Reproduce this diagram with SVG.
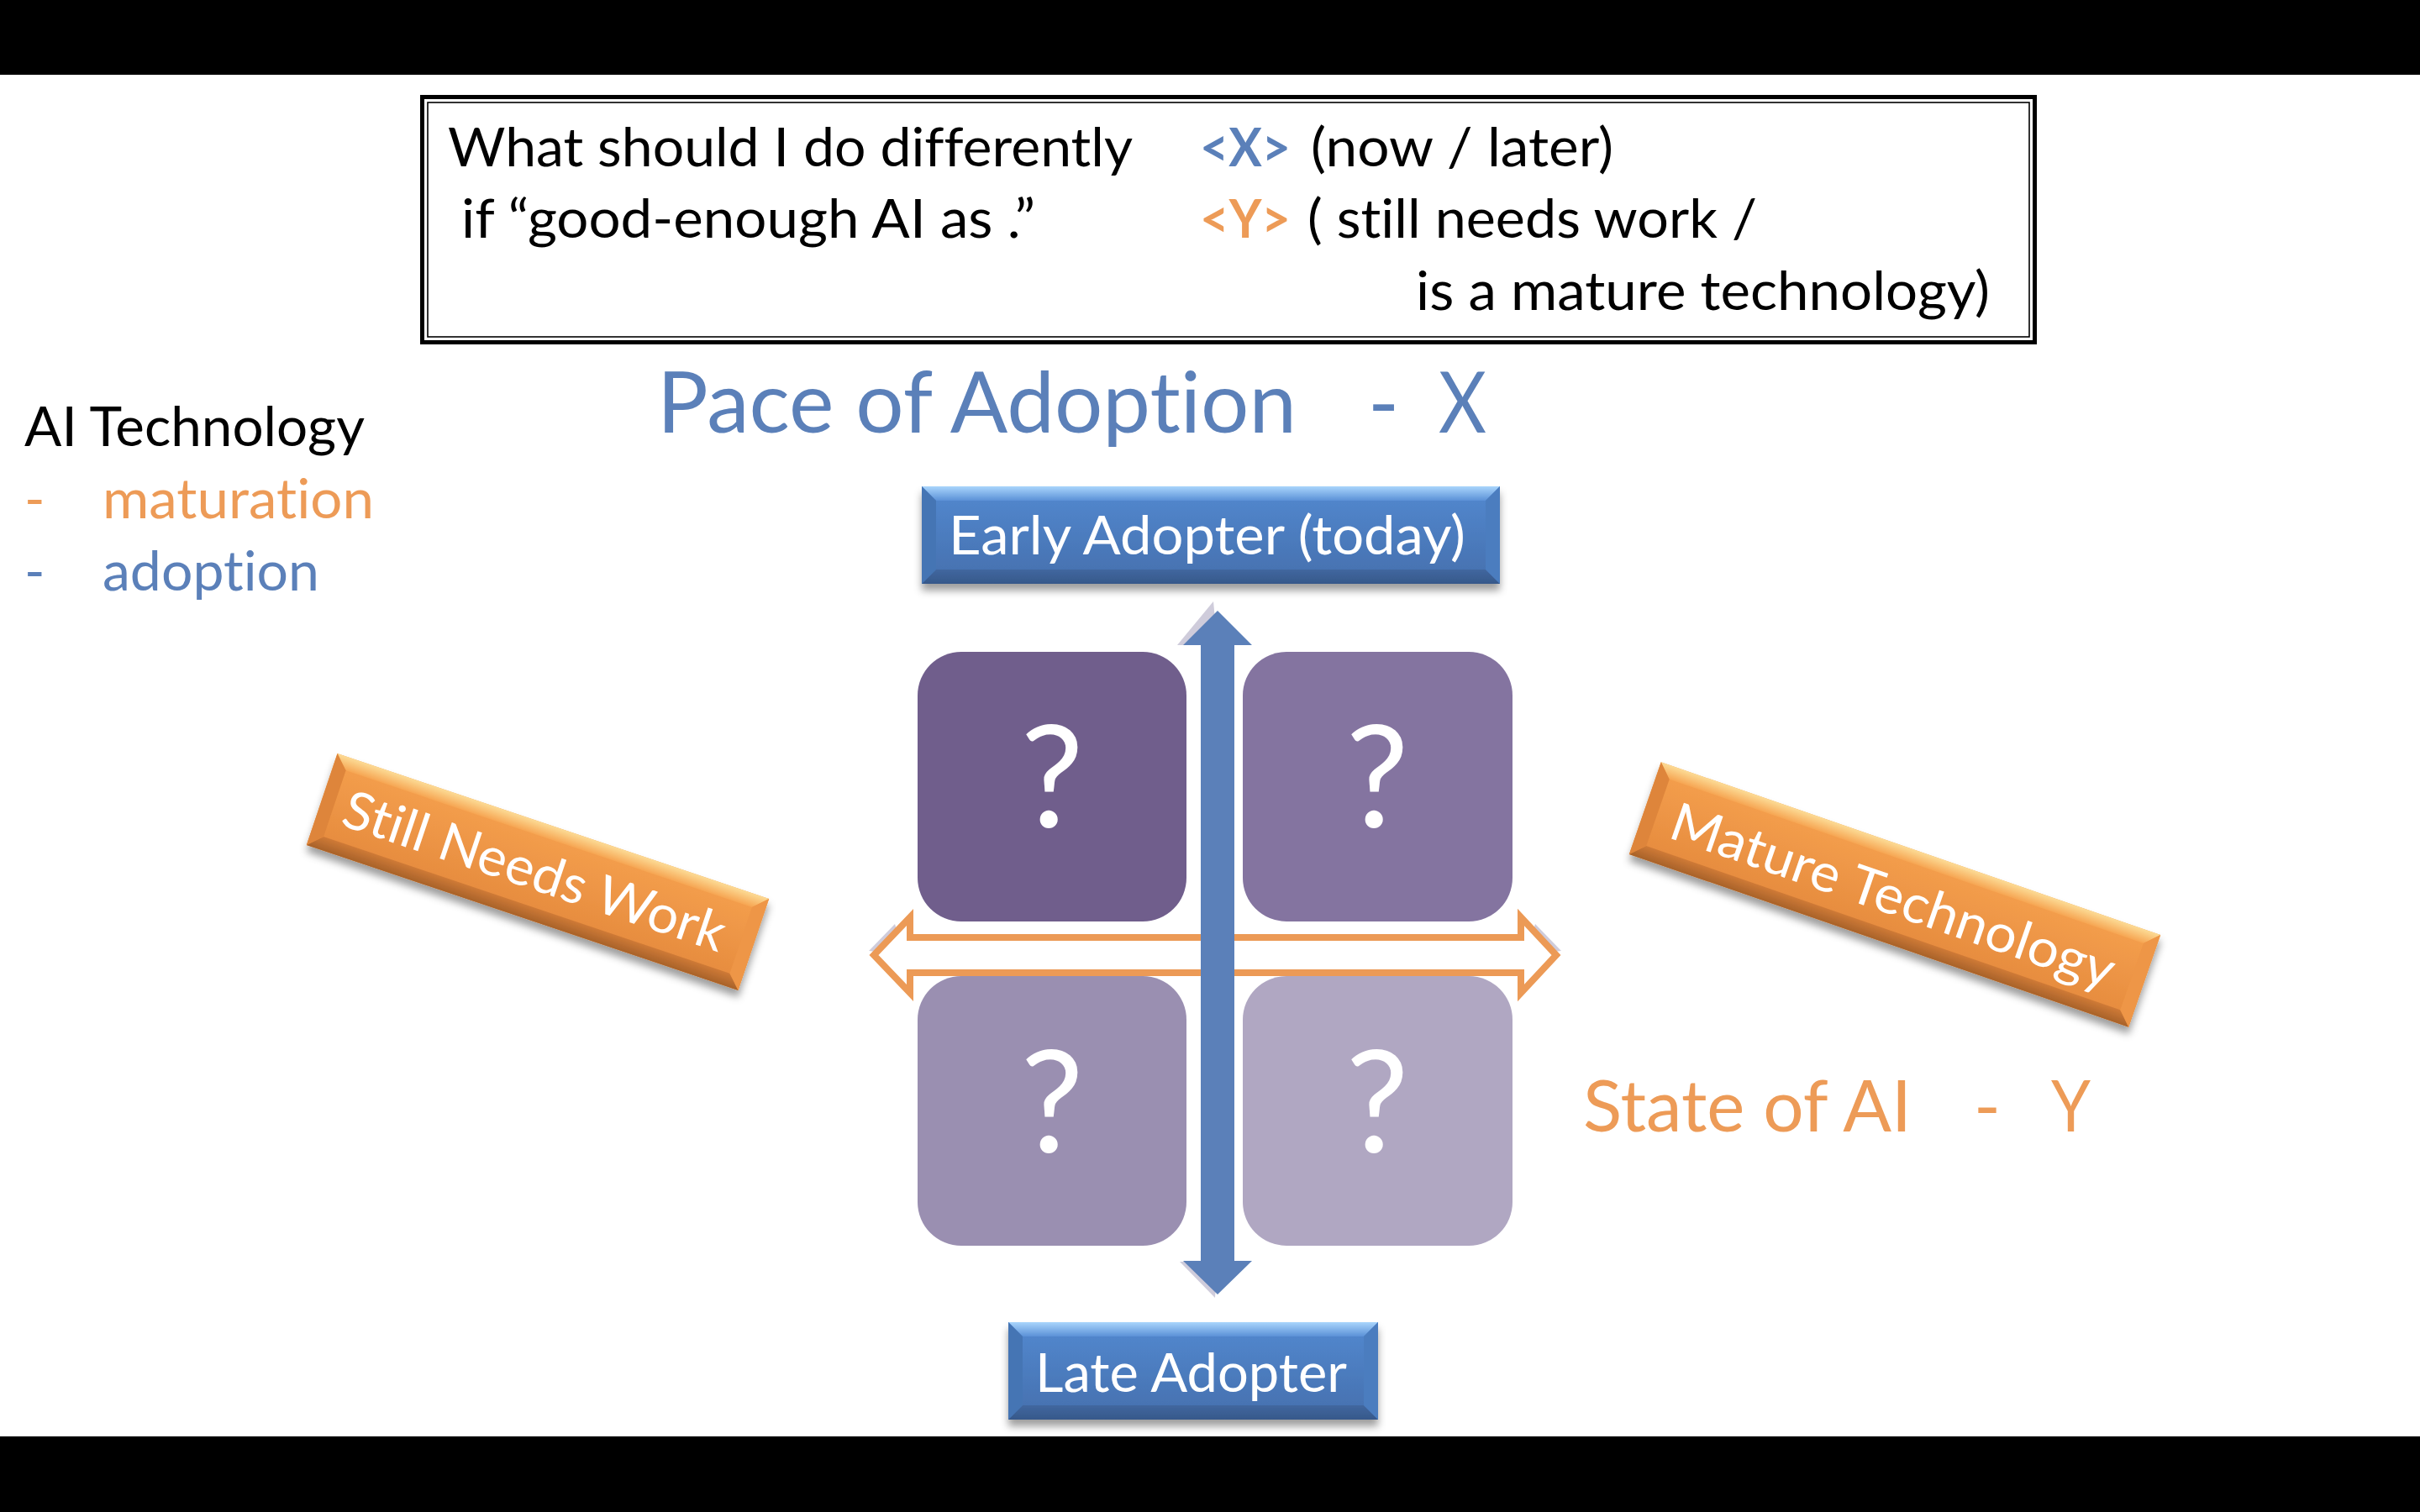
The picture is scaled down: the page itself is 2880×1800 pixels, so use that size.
<svg xmlns="http://www.w3.org/2000/svg" width="2880" height="1800" viewBox="0 0 2880 1800">
  <defs>
    <style>
      text { font-variant-ligatures: none; font-feature-settings: "liga" 0, "dlig" 0, "calt" 0; }
      .txt { font-family: Lato, "Liberation Sans", sans-serif; }
      .q { font-family: Lato, "Liberation Sans", sans-serif; font-size: 168px; fill: #ffffff; text-anchor: middle; }
      .btn-label { font-family: Lato, "Liberation Sans", sans-serif; font-size: 63px; fill: #ffffff; }
      .blue { fill: #5B80B9; }
      .orange { fill: #ED9B57; }
      .tag { font-weight: bold; }
    </style>
    <filter id="drop" x="-10%" y="-30%" width="120%" height="170%">
      <feDropShadow dx="0" dy="8" stdDeviation="5" flood-color="#000000" flood-opacity="0.38"/>
    </filter>
    <!-- blue bevel button -->
    <linearGradient id="blueBody" x1="0" y1="0" x2="0" y2="1">
      <stop offset="0" stop-color="#5389D0"/>
      <stop offset="1" stop-color="#456FAD"/>
    </linearGradient>
    <linearGradient id="blueTop" x1="0" y1="0" x2="0" y2="1">
      <stop offset="0" stop-color="#A9D5FC"/>
      <stop offset="1" stop-color="#5B91D7"/>
    </linearGradient>
    <linearGradient id="blueBot" x1="0" y1="0" x2="0" y2="1">
      <stop offset="0" stop-color="#41679F"/>
      <stop offset="1" stop-color="#36588A"/>
    </linearGradient>
    <!-- orange bevel button -->
    <linearGradient id="orBody" x1="0" y1="0" x2="0" y2="1">
      <stop offset="0" stop-color="#F5A04E"/>
      <stop offset="1" stop-color="#E58A3D"/>
    </linearGradient>
    <linearGradient id="orTop" x1="0" y1="0" x2="0" y2="1">
      <stop offset="0" stop-color="#FCDB95"/>
      <stop offset="1" stop-color="#F6A552"/>
    </linearGradient>
    <linearGradient id="orBot" x1="0" y1="0" x2="0" y2="1">
      <stop offset="0" stop-color="#CF7A36"/>
      <stop offset="1" stop-color="#A8622A"/>
    </linearGradient>
  </defs>

  <!-- page -->
  <rect x="0" y="0" width="2880" height="1800" fill="#ffffff"/>
  <rect x="0" y="0" width="2880" height="89" fill="#000000"/>
  <rect x="0" y="1710" width="2880" height="90" fill="#000000"/>

  <!-- question box -->
  <g id="question-box">
    <rect x="502.5" y="115.5" width="1919" height="292" fill="#ffffff" stroke="#000000" stroke-width="5"/>
    <rect x="509" y="122" width="1906" height="279" fill="none" stroke="#000000" stroke-width="1.6"/>
    <g class="txt" font-size="64" fill="#000000">
      <text x="533" y="198" textLength="815" lengthAdjust="spacingAndGlyphs">What should I do differently</text>
      <text x="1428" y="198" textLength="108" lengthAdjust="spacingAndGlyphs" class="blue tag">&lt;X&gt;</text>
      <text x="1560" y="198" textLength="360" lengthAdjust="spacingAndGlyphs">(now / later)</text>
      <text x="549" y="283" textLength="683" lengthAdjust="spacingAndGlyphs">if “good-enough AI as .”</text>
      <text x="1428" y="283" textLength="108" lengthAdjust="spacingAndGlyphs" class="orange tag">&lt;Y&gt;</text>
      <text x="1556" y="283" textLength="535" lengthAdjust="spacingAndGlyphs">( st&#8204;ill needs work /</text>
      <text x="1685" y="369" textLength="683" lengthAdjust="spacingAndGlyphs">is a mature technology)</text>
    </g>
  </g>

  <!-- legend -->
  <g id="legend" class="txt" font-size="66">
    <text x="29" y="531" textLength="405" lengthAdjust="spacingAndGlyphs" fill="#000000">AI Technology</text>
    <text x="29" y="617" class="orange">-</text>
    <text x="122" y="617" textLength="323" lengthAdjust="spacingAndGlyphs" class="orange">maturat&#8204;ion</text>
    <text x="29" y="703" class="blue">-</text>
    <text x="122" y="703" textLength="258" lengthAdjust="spacingAndGlyphs" class="blue">adopt&#8204;ion</text>
  </g>

  <!-- axis titles -->
  <g id="title-x" class="txt blue" font-size="100">
    <text x="782" y="515" textLength="761" lengthAdjust="spacingAndGlyphs">Pace of Adopt&#8204;ion</text>
    <text x="1628" y="515">-</text>
    <text x="1712" y="515" textLength="57" lengthAdjust="spacingAndGlyphs">X</text>
  </g>
  <g id="title-y" class="txt orange" font-size="86">
    <text x="1884" y="1347" textLength="391" lengthAdjust="spacingAndGlyphs">State of AI</text>
    <text x="2349" y="1347">-</text>
    <text x="2441" y="1347" textLength="47" lengthAdjust="spacingAndGlyphs">Y</text>
  </g>

  <!-- adoption buttons -->
  <g id="early-adopter" filter="url(#drop)">
    <rect x="1097" y="579" width="688" height="116" fill="url(#blueBody)"/>
    <polygon points="1097,579 1785,579 1768,596 1114,596" fill="url(#blueTop)"/>
    <polygon points="1097,695 1785,695 1768,678 1114,678" fill="url(#blueBot)"/>
    <polygon points="1097,579 1114,596 1114,678 1097,695" fill="#4574B4"/>
    <polygon points="1785,579 1768,596 1768,678 1785,695" fill="#4B7DBF"/>
    <text x="1129" y="660" class="btn-label" textLength="615" lengthAdjust="spacingAndGlyphs">Early Adopter (today)</text>
  </g>
  <g id="late-adopter" filter="url(#drop)">
    <rect x="1200" y="1574" width="440" height="116" fill="url(#blueBody)"/>
    <polygon points="1200,1574 1640,1574 1623,1591 1217,1591" fill="url(#blueTop)"/>
    <polygon points="1200,1690 1640,1690 1623,1673 1217,1673" fill="url(#blueBot)"/>
    <polygon points="1200,1574 1217,1591 1217,1673 1200,1690" fill="#4574B4"/>
    <polygon points="1640,1574 1623,1591 1623,1673 1640,1690" fill="#4B7DBF"/>
    <text x="1232" y="1657" class="btn-label" textLength="371" lengthAdjust="spacingAndGlyphs">Late Adopter</text>
  </g>

  <!-- maturity buttons (tilted) -->
  <g id="still-needs-work" filter="url(#drop)">
    <g transform="translate(640,1038) rotate(18.6)">
      <rect x="-271" y="-57.5" width="542" height="115" fill="url(#orBody)"/>
      <polygon points="-271,-57.5 271,-57.5 255,-41.5 -255,-41.5" fill="url(#orTop)"/>
      <polygon points="-271,57.5 271,57.5 255,41.5 -255,41.5" fill="url(#orBot)"/>
      <polygon points="-271,-57.5 -255,-41.5 -255,41.5 -271,57.5" fill="#DE853A"/>
      <polygon points="271,-57.5 255,-41.5 255,41.5 271,57.5" fill="#EE9646"/>
      <text x="-242" y="22" class="btn-label" textLength="476" lengthAdjust="spacingAndGlyphs">St&#8204;ill Needs Work</text>
    </g>
  </g>
  <g id="mature-technology" filter="url(#drop)">
    <g transform="translate(2255,1065) rotate(19.1)">
      <rect x="-314.5" y="-58" width="629" height="116" fill="url(#orBody)"/>
      <polygon points="-314.5,-58 314.5,-58 298.5,-42 -298.5,-42" fill="url(#orTop)"/>
      <polygon points="-314.5,58 314.5,58 298.5,42 -298.5,42" fill="url(#orBot)"/>
      <polygon points="-314.5,-58 -298.5,-42 -298.5,42 -314.5,58" fill="#DE853A"/>
      <polygon points="314.5,-58 298.5,-42 298.5,42 314.5,58" fill="#EE9646"/>
      <text x="-279" y="24" class="btn-label" textLength="555" lengthAdjust="spacingAndGlyphs">Mature Technology</text>
    </g>
  </g>

  <!-- quadrants -->
  <g id="quadrant-top-left">
    <rect x="1092" y="776" width="320" height="321" rx="52" fill="#705E8C"/>
    <text x="1252" y="985" class="q">?</text>
  </g>
  <g id="quadrant-top-right">
    <rect x="1479" y="776" width="321" height="321" rx="52" fill="#8474A0"/>
    <text x="1639" y="985" class="q">?</text>
  </g>
  <g id="quadrant-bottom-left">
    <rect x="1092" y="1162" width="320" height="321" rx="52" fill="#9A8FB1"/>
    <text x="1252" y="1372" class="q">?</text>
  </g>
  <g id="quadrant-bottom-right">
    <rect x="1479" y="1162" width="321" height="321" rx="52" fill="#B0A7C2"/>
    <text x="1639" y="1372" class="q">?</text>
  </g>

  <!-- axes -->
  <g id="connectors">
    <g id="axis-shadows" fill="#CFCCDB">
      <polygon points="1034,1132 1065,1100 1076,1137"/>
      <polygon points="1858,1132 1827,1100 1816,1137"/>
      <polygon points="1444,716 1401,768 1449,768"/>
      <polygon points="1446,1545 1404,1502 1449,1502"/>
    </g>
    <path id="axis-maturity" d="M1040,1137 L1083,1092 L1083,1116 L1810,1116 L1810,1092 L1852,1137 L1810,1182 L1810,1158 L1083,1158 L1083,1182 Z" fill="#ffffff" stroke="#EC9A56" stroke-width="8" stroke-linejoin="miter"/>
    <polygon id="axis-adoption" points="1449,727 1490,768 1469,768 1469,1501 1490,1501 1449,1541 1408,1501 1429,1501 1429,768 1408,768" fill="#5B80B9"/>
  </g>
</svg>
